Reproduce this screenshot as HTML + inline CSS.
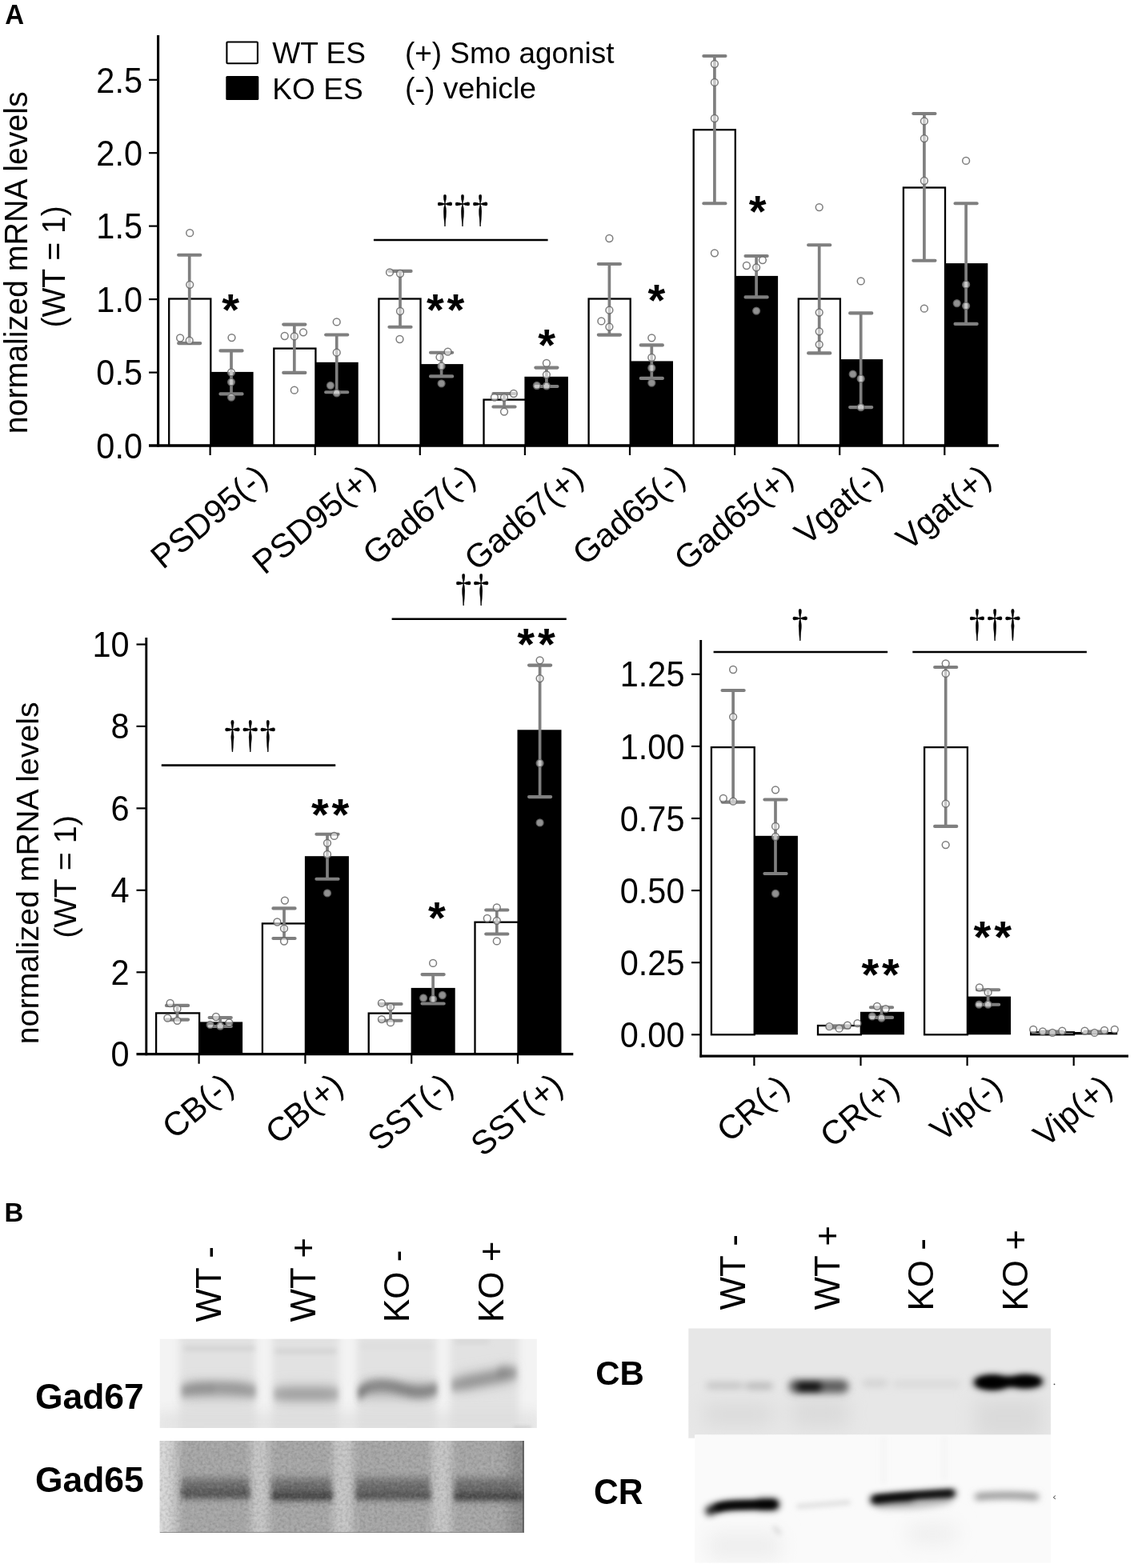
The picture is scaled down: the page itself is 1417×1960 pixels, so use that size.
<!DOCTYPE html>
<html><head><meta charset="utf-8"><title>Figure</title>
<style>
html,body{margin:0;padding:0;background:#fff;}
svg{display:block;}
text{font-family:"Liberation Sans",sans-serif;fill:#000;}
.tk{font-size:41.5px;}
.xl{font-size:41.8px;}
.yl{font-size:39.3px;}
.lg{font-size:37.1px;}
.pl{font-size:33px;font-weight:bold;}
.bl{font-size:44.4px;font-weight:bold;}
.vt{}
.st{font-family:"Liberation Sans",sans-serif;font-weight:bold;}
.dg{font-family:"Noto Serif CJK SC","Liberation Serif",serif;stroke:#000;stroke-width:0.5px;}
</style></head><body>
<svg width="1417" height="1960" viewBox="0 0 1417 1960">
<rect width="1417" height="1960" fill="#fff"/>
<g id="plotA">
<rect x="262.1" y="464.9" width="54.5" height="92.1" fill="#000"/>
<rect x="211.2" y="373.5" width="52.1" height="183.5" fill="#fff" stroke="#000" stroke-width="2.3"/>
<rect x="393.2" y="452.8" width="54.5" height="104.2" fill="#000"/>
<rect x="342.3" y="435.6" width="52.1" height="121.4" fill="#fff" stroke="#000" stroke-width="2.3"/>
<rect x="524.3" y="455.1" width="54.5" height="101.9" fill="#000"/>
<rect x="473.4" y="373.5" width="52.1" height="183.5" fill="#fff" stroke="#000" stroke-width="2.3"/>
<rect x="655.4" y="470.8" width="54.5" height="86.2" fill="#000"/>
<rect x="604.5" y="499.6" width="52.1" height="57.4" fill="#fff" stroke="#000" stroke-width="2.3"/>
<rect x="786.5" y="451.4" width="54.5" height="105.6" fill="#000"/>
<rect x="735.6" y="373.5" width="52.1" height="183.5" fill="#fff" stroke="#000" stroke-width="2.3"/>
<rect x="917.6" y="344.9" width="54.5" height="212.1" fill="#000"/>
<rect x="866.7" y="162.2" width="52.1" height="394.8" fill="#fff" stroke="#000" stroke-width="2.3"/>
<rect x="1048.7" y="449.1" width="54.5" height="107.9" fill="#000"/>
<rect x="997.8" y="373.5" width="52.1" height="183.5" fill="#fff" stroke="#000" stroke-width="2.3"/>
<rect x="1179.8" y="329.1" width="54.5" height="227.9" fill="#000"/>
<rect x="1128.9" y="234.5" width="52.1" height="322.5" fill="#fff" stroke="#000" stroke-width="2.3"/>
<path d="M236.7 318.8V429.1" stroke="#7f7f7f" stroke-width="3.7" fill="none"/>
<path d="M223.1 318.8H250.3M223.1 429.1H250.3" stroke="#7f7f7f" stroke-width="4.1" stroke-linecap="round" fill="none"/>
<path d="M289.0 438.4V492.4" stroke="#7f7f7f" stroke-width="3.7" fill="none"/>
<path d="M275.4 438.4H302.6M275.4 492.4H302.6" stroke="#7f7f7f" stroke-width="4.1" stroke-linecap="round" fill="none"/>
<path d="M367.8 405.6V465.9" stroke="#7f7f7f" stroke-width="3.7" fill="none"/>
<path d="M354.2 405.6H381.4M354.2 465.9H381.4" stroke="#7f7f7f" stroke-width="4.1" stroke-linecap="round" fill="none"/>
<path d="M420.7 418.5V490.3" stroke="#7f7f7f" stroke-width="3.7" fill="none"/>
<path d="M407.1 418.5H434.3M407.1 490.3H434.3" stroke="#7f7f7f" stroke-width="4.1" stroke-linecap="round" fill="none"/>
<path d="M500.0 338.9V408.7" stroke="#7f7f7f" stroke-width="3.7" fill="none"/>
<path d="M486.4 338.9H513.6M486.4 408.7H513.6" stroke="#7f7f7f" stroke-width="4.1" stroke-linecap="round" fill="none"/>
<path d="M551.6 440.7V470.4" stroke="#7f7f7f" stroke-width="3.7" fill="none"/>
<path d="M538.0 440.7H565.2M538.0 470.4H565.2" stroke="#7f7f7f" stroke-width="4.1" stroke-linecap="round" fill="none"/>
<path d="M630.0 492.0V508.5" stroke="#7f7f7f" stroke-width="3.7" fill="none"/>
<path d="M616.4 492.0H643.6M616.4 508.5H643.6" stroke="#7f7f7f" stroke-width="4.1" stroke-linecap="round" fill="none"/>
<path d="M682.9 459.6V483.0" stroke="#7f7f7f" stroke-width="3.7" fill="none"/>
<path d="M669.3 459.6H696.5M669.3 483.0H696.5" stroke="#7f7f7f" stroke-width="4.1" stroke-linecap="round" fill="none"/>
<path d="M761.4 330.0V418.6" stroke="#7f7f7f" stroke-width="3.7" fill="none"/>
<path d="M747.8 330.0H775.0M747.8 418.6H775.0" stroke="#7f7f7f" stroke-width="4.1" stroke-linecap="round" fill="none"/>
<path d="M814.3 431.4V472.9" stroke="#7f7f7f" stroke-width="3.7" fill="none"/>
<path d="M800.7 431.4H827.9M800.7 472.9H827.9" stroke="#7f7f7f" stroke-width="4.1" stroke-linecap="round" fill="none"/>
<path d="M892.9 70.0V254.3" stroke="#7f7f7f" stroke-width="3.7" fill="none"/>
<path d="M879.3 70.0H906.5M879.3 254.3H906.5" stroke="#7f7f7f" stroke-width="4.1" stroke-linecap="round" fill="none"/>
<path d="M945.1 320.0V371.4" stroke="#7f7f7f" stroke-width="3.7" fill="none"/>
<path d="M931.5 320.0H958.7M931.5 371.4H958.7" stroke="#7f7f7f" stroke-width="4.1" stroke-linecap="round" fill="none"/>
<path d="M1023.7 306.3V441.4" stroke="#7f7f7f" stroke-width="3.7" fill="none"/>
<path d="M1010.1 306.3H1037.3M1010.1 441.4H1037.3" stroke="#7f7f7f" stroke-width="4.1" stroke-linecap="round" fill="none"/>
<path d="M1075.7 391.4V509.1" stroke="#7f7f7f" stroke-width="3.7" fill="none"/>
<path d="M1062.1 391.4H1089.3M1062.1 509.1H1089.3" stroke="#7f7f7f" stroke-width="4.1" stroke-linecap="round" fill="none"/>
<path d="M1154.9 142.0V325.7" stroke="#7f7f7f" stroke-width="3.7" fill="none"/>
<path d="M1141.3 142.0H1168.5M1141.3 325.7H1168.5" stroke="#7f7f7f" stroke-width="4.1" stroke-linecap="round" fill="none"/>
<path d="M1207.1 254.3V404.9" stroke="#7f7f7f" stroke-width="3.7" fill="none"/>
<path d="M1193.5 254.3H1220.7M1193.5 404.9H1220.7" stroke="#7f7f7f" stroke-width="4.1" stroke-linecap="round" fill="none"/>
<circle cx="237.2" cy="291.2" r="4.4" fill="#fff" fill-opacity="0.57" stroke="#666" stroke-opacity="0.85" stroke-width="1.5"/>
<circle cx="237.2" cy="355.8" r="4.4" fill="#fff" fill-opacity="0.57" stroke="#666" stroke-opacity="0.85" stroke-width="1.5"/>
<circle cx="225.1" cy="422.5" r="4.4" fill="#fff" fill-opacity="0.57" stroke="#666" stroke-opacity="0.85" stroke-width="1.5"/>
<circle cx="236.7" cy="425.7" r="4.4" fill="#fff" fill-opacity="0.57" stroke="#666" stroke-opacity="0.85" stroke-width="1.5"/>
<circle cx="289.5" cy="422.1" r="4.4" fill="#fff" fill-opacity="0.57" stroke="#666" stroke-opacity="0.85" stroke-width="1.5"/>
<circle cx="289.0" cy="465.5" r="4.4" fill="#fff" fill-opacity="0.57" stroke="#666" stroke-opacity="0.85" stroke-width="1.5"/>
<circle cx="289.0" cy="477.6" r="4.4" fill="#fff" fill-opacity="0.57" stroke="#666" stroke-opacity="0.85" stroke-width="1.5"/>
<circle cx="289.0" cy="496.6" r="4.4" fill="#fff" fill-opacity="0.57" stroke="#666" stroke-opacity="0.85" stroke-width="1.5"/>
<circle cx="355.7" cy="420.0" r="4.4" fill="#fff" fill-opacity="0.57" stroke="#666" stroke-opacity="0.85" stroke-width="1.5"/>
<circle cx="367.8" cy="420.4" r="4.4" fill="#fff" fill-opacity="0.57" stroke="#666" stroke-opacity="0.85" stroke-width="1.5"/>
<circle cx="379.0" cy="415.3" r="4.4" fill="#fff" fill-opacity="0.57" stroke="#666" stroke-opacity="0.85" stroke-width="1.5"/>
<circle cx="367.8" cy="487.7" r="4.4" fill="#fff" fill-opacity="0.57" stroke="#666" stroke-opacity="0.85" stroke-width="1.5"/>
<circle cx="420.7" cy="402.4" r="4.4" fill="#fff" fill-opacity="0.57" stroke="#666" stroke-opacity="0.85" stroke-width="1.5"/>
<circle cx="420.7" cy="440.7" r="4.4" fill="#fff" fill-opacity="0.57" stroke="#666" stroke-opacity="0.85" stroke-width="1.5"/>
<circle cx="412.9" cy="481.8" r="4.4" fill="#fff" fill-opacity="0.57" stroke="#666" stroke-opacity="0.85" stroke-width="1.5"/>
<circle cx="420.7" cy="491.3" r="4.4" fill="#fff" fill-opacity="0.57" stroke="#666" stroke-opacity="0.85" stroke-width="1.5"/>
<circle cx="487.0" cy="340.4" r="4.4" fill="#fff" fill-opacity="0.57" stroke="#666" stroke-opacity="0.85" stroke-width="1.5"/>
<circle cx="500.0" cy="342.0" r="4.4" fill="#fff" fill-opacity="0.57" stroke="#666" stroke-opacity="0.85" stroke-width="1.5"/>
<circle cx="500.0" cy="389.0" r="4.4" fill="#fff" fill-opacity="0.57" stroke="#666" stroke-opacity="0.85" stroke-width="1.5"/>
<circle cx="499.5" cy="424.0" r="4.4" fill="#fff" fill-opacity="0.57" stroke="#666" stroke-opacity="0.85" stroke-width="1.5"/>
<circle cx="559.6" cy="439.7" r="4.4" fill="#fff" fill-opacity="0.57" stroke="#666" stroke-opacity="0.85" stroke-width="1.5"/>
<circle cx="549.5" cy="446.4" r="4.4" fill="#fff" fill-opacity="0.57" stroke="#666" stroke-opacity="0.85" stroke-width="1.5"/>
<circle cx="551.6" cy="457.7" r="4.4" fill="#fff" fill-opacity="0.57" stroke="#666" stroke-opacity="0.85" stroke-width="1.5"/>
<circle cx="551.6" cy="479.3" r="4.4" fill="#fff" fill-opacity="0.57" stroke="#666" stroke-opacity="0.85" stroke-width="1.5"/>
<circle cx="617.9" cy="496.6" r="4.4" fill="#fff" fill-opacity="0.57" stroke="#666" stroke-opacity="0.85" stroke-width="1.5"/>
<circle cx="630.0" cy="496.8" r="4.4" fill="#fff" fill-opacity="0.57" stroke="#666" stroke-opacity="0.85" stroke-width="1.5"/>
<circle cx="641.8" cy="492.0" r="4.4" fill="#fff" fill-opacity="0.57" stroke="#666" stroke-opacity="0.85" stroke-width="1.5"/>
<circle cx="630.0" cy="514.6" r="4.4" fill="#fff" fill-opacity="0.57" stroke="#666" stroke-opacity="0.85" stroke-width="1.5"/>
<circle cx="682.9" cy="453.9" r="4.4" fill="#fff" fill-opacity="0.57" stroke="#666" stroke-opacity="0.85" stroke-width="1.5"/>
<circle cx="682.9" cy="468.3" r="4.4" fill="#fff" fill-opacity="0.57" stroke="#666" stroke-opacity="0.85" stroke-width="1.5"/>
<circle cx="670.8" cy="482.0" r="4.4" fill="#fff" fill-opacity="0.57" stroke="#666" stroke-opacity="0.85" stroke-width="1.5"/>
<circle cx="682.9" cy="482.4" r="4.4" fill="#fff" fill-opacity="0.57" stroke="#666" stroke-opacity="0.85" stroke-width="1.5"/>
<circle cx="761.4" cy="298.0" r="4.4" fill="#fff" fill-opacity="0.57" stroke="#666" stroke-opacity="0.85" stroke-width="1.5"/>
<circle cx="761.4" cy="387.7" r="4.4" fill="#fff" fill-opacity="0.57" stroke="#666" stroke-opacity="0.85" stroke-width="1.5"/>
<circle cx="751.4" cy="401.4" r="4.4" fill="#fff" fill-opacity="0.57" stroke="#666" stroke-opacity="0.85" stroke-width="1.5"/>
<circle cx="761.4" cy="408.6" r="4.4" fill="#fff" fill-opacity="0.57" stroke="#666" stroke-opacity="0.85" stroke-width="1.5"/>
<circle cx="814.3" cy="422.3" r="4.4" fill="#fff" fill-opacity="0.57" stroke="#666" stroke-opacity="0.85" stroke-width="1.5"/>
<circle cx="814.3" cy="447.0" r="4.4" fill="#fff" fill-opacity="0.57" stroke="#666" stroke-opacity="0.85" stroke-width="1.5"/>
<circle cx="814.3" cy="460.0" r="4.4" fill="#fff" fill-opacity="0.57" stroke="#666" stroke-opacity="0.85" stroke-width="1.5"/>
<circle cx="814.3" cy="478.6" r="4.4" fill="#fff" fill-opacity="0.57" stroke="#666" stroke-opacity="0.85" stroke-width="1.5"/>
<circle cx="892.9" cy="80.0" r="4.4" fill="#fff" fill-opacity="0.57" stroke="#666" stroke-opacity="0.85" stroke-width="1.5"/>
<circle cx="892.9" cy="102.9" r="4.4" fill="#fff" fill-opacity="0.57" stroke="#666" stroke-opacity="0.85" stroke-width="1.5"/>
<circle cx="892.9" cy="148.0" r="4.4" fill="#fff" fill-opacity="0.57" stroke="#666" stroke-opacity="0.85" stroke-width="1.5"/>
<circle cx="892.9" cy="316.3" r="4.4" fill="#fff" fill-opacity="0.57" stroke="#666" stroke-opacity="0.85" stroke-width="1.5"/>
<circle cx="932.9" cy="332.0" r="4.4" fill="#fff" fill-opacity="0.57" stroke="#666" stroke-opacity="0.85" stroke-width="1.5"/>
<circle cx="945.1" cy="334.3" r="4.4" fill="#fff" fill-opacity="0.57" stroke="#666" stroke-opacity="0.85" stroke-width="1.5"/>
<circle cx="952.9" cy="325.1" r="4.4" fill="#fff" fill-opacity="0.57" stroke="#666" stroke-opacity="0.85" stroke-width="1.5"/>
<circle cx="945.1" cy="388.6" r="4.4" fill="#fff" fill-opacity="0.57" stroke="#666" stroke-opacity="0.85" stroke-width="1.5"/>
<circle cx="1023.7" cy="259.1" r="4.4" fill="#fff" fill-opacity="0.57" stroke="#666" stroke-opacity="0.85" stroke-width="1.5"/>
<circle cx="1023.7" cy="390.6" r="4.4" fill="#fff" fill-opacity="0.57" stroke="#666" stroke-opacity="0.85" stroke-width="1.5"/>
<circle cx="1023.7" cy="414.3" r="4.4" fill="#fff" fill-opacity="0.57" stroke="#666" stroke-opacity="0.85" stroke-width="1.5"/>
<circle cx="1023.7" cy="430.6" r="4.4" fill="#fff" fill-opacity="0.57" stroke="#666" stroke-opacity="0.85" stroke-width="1.5"/>
<circle cx="1075.7" cy="351.4" r="4.4" fill="#fff" fill-opacity="0.57" stroke="#666" stroke-opacity="0.85" stroke-width="1.5"/>
<circle cx="1065.7" cy="467.7" r="4.4" fill="#fff" fill-opacity="0.57" stroke="#666" stroke-opacity="0.85" stroke-width="1.5"/>
<circle cx="1075.7" cy="473.4" r="4.4" fill="#fff" fill-opacity="0.57" stroke="#666" stroke-opacity="0.85" stroke-width="1.5"/>
<circle cx="1075.7" cy="509.1" r="4.4" fill="#fff" fill-opacity="0.57" stroke="#666" stroke-opacity="0.85" stroke-width="1.5"/>
<circle cx="1154.9" cy="151.4" r="4.4" fill="#fff" fill-opacity="0.57" stroke="#666" stroke-opacity="0.85" stroke-width="1.5"/>
<circle cx="1154.9" cy="173.1" r="4.4" fill="#fff" fill-opacity="0.57" stroke="#666" stroke-opacity="0.85" stroke-width="1.5"/>
<circle cx="1154.9" cy="226.0" r="4.4" fill="#fff" fill-opacity="0.57" stroke="#666" stroke-opacity="0.85" stroke-width="1.5"/>
<circle cx="1154.9" cy="385.7" r="4.4" fill="#fff" fill-opacity="0.57" stroke="#666" stroke-opacity="0.85" stroke-width="1.5"/>
<circle cx="1207.1" cy="200.9" r="4.4" fill="#fff" fill-opacity="0.57" stroke="#666" stroke-opacity="0.85" stroke-width="1.5"/>
<circle cx="1207.1" cy="355.7" r="4.4" fill="#fff" fill-opacity="0.57" stroke="#666" stroke-opacity="0.85" stroke-width="1.5"/>
<circle cx="1195.7" cy="379.1" r="4.4" fill="#fff" fill-opacity="0.57" stroke="#666" stroke-opacity="0.85" stroke-width="1.5"/>
<circle cx="1207.1" cy="382.3" r="4.4" fill="#fff" fill-opacity="0.57" stroke="#666" stroke-opacity="0.85" stroke-width="1.5"/>
<path d="M197.6 44V558.6" stroke="#000" stroke-width="3.1" fill="none"/>
<path d="M186 557.0H1248" stroke="#000" stroke-width="3.3" fill="none"/>
<text class="tk" text-anchor="end" transform="translate(178 572.8) scale(1 1.065)">0.0</text>
<path d="M186 465.6H197" stroke="#000" stroke-width="2.2" fill="none"/>
<text class="tk" text-anchor="end" transform="translate(178 481.4) scale(1 1.065)">0.5</text>
<path d="M186 374.1H197" stroke="#000" stroke-width="2.2" fill="none"/>
<text class="tk" text-anchor="end" transform="translate(178 389.9) scale(1 1.065)">1.0</text>
<path d="M186 282.6H197" stroke="#000" stroke-width="2.2" fill="none"/>
<text class="tk" text-anchor="end" transform="translate(178 298.4) scale(1 1.065)">1.5</text>
<path d="M186 191.2H197" stroke="#000" stroke-width="2.2" fill="none"/>
<text class="tk" text-anchor="end" transform="translate(178 207.0) scale(1 1.065)">2.0</text>
<path d="M186 99.8H197" stroke="#000" stroke-width="2.2" fill="none"/>
<text class="tk" text-anchor="end" transform="translate(178 115.5) scale(1 1.065)">2.5</text>
<path d="M262.6 557.0V569.0" stroke="#000" stroke-width="2.2" fill="none"/>
<path d="M393.7 557.0V569.0" stroke="#000" stroke-width="2.2" fill="none"/>
<path d="M524.8 557.0V569.0" stroke="#000" stroke-width="2.2" fill="none"/>
<path d="M655.9 557.0V569.0" stroke="#000" stroke-width="2.2" fill="none"/>
<path d="M787.0 557.0V569.0" stroke="#000" stroke-width="2.2" fill="none"/>
<path d="M918.1 557.0V569.0" stroke="#000" stroke-width="2.2" fill="none"/>
<path d="M1049.2 557.0V569.0" stroke="#000" stroke-width="2.2" fill="none"/>
<path d="M1180.3 557.0V569.0" stroke="#000" stroke-width="2.2" fill="none"/>
<text class="xl" text-anchor="end" transform="translate(337.0 600.8) rotate(-40)">PSD95(-)</text>
<text class="xl" text-anchor="end" transform="translate(472.1 600.8) rotate(-40)">PSD95(+)</text>
<text class="xl" text-anchor="end" transform="translate(596.6 600.8) rotate(-40)">Gad67(-)</text>
<text class="xl" text-anchor="end" transform="translate(731.7 600.8) rotate(-40)">Gad67(+)</text>
<text class="xl" text-anchor="end" transform="translate(858.8 600.8) rotate(-40)">Gad65(-)</text>
<text class="xl" text-anchor="end" transform="translate(993.9 600.8) rotate(-40)">Gad65(+)</text>
<text class="xl" text-anchor="end" transform="translate(1105.8 600.8) rotate(-40)">Vgat(-)</text>
<text class="xl" text-anchor="end" transform="translate(1240.9 600.8) rotate(-40)">Vgat(+)</text>
<path d="M466.9 300.0H684.6" stroke="#000" stroke-width="2.6" fill="none"/>
<text class="dg" font-size="45" text-anchor="middle" transform="translate(555.9 279.8) scale(0.82 1)">†</text>
<text class="dg" font-size="45" text-anchor="middle" transform="translate(578.0 279.8) scale(0.82 1)">†</text>
<text class="dg" font-size="45" text-anchor="middle" transform="translate(600.1 279.8) scale(0.82 1)">†</text>
<text x="290.2" y="406.3" class="st" font-size="56" text-anchor="middle" letter-spacing="3.9">*</text>
<text x="558.6" y="406.3" class="st" font-size="56" text-anchor="middle" letter-spacing="3.9">**</text>
<text x="685.1" y="450.3" class="st" font-size="56" text-anchor="middle" letter-spacing="3.9">*</text>
<text x="822.4" y="393.6" class="st" font-size="56" text-anchor="middle" letter-spacing="3.9">*</text>
<text x="948.5" y="282.6" class="st" font-size="56" text-anchor="middle" letter-spacing="3.9">*</text>
<text class="yl" text-anchor="middle" transform="translate(34.4 328.3) rotate(-90) scale(1 1.04)">normalized mRNA levels</text>
<text class="yl" text-anchor="end" transform="translate(81 257.2) rotate(-90) scale(0.995 1.03)">(WT = 1)</text>
<rect x="283.4" y="52.5" width="38.5" height="26.8" rx="1" fill="#fff" stroke="#000" stroke-width="2.1"/>
<rect x="282.3" y="95" width="41" height="30" rx="1.5" fill="#000"/>
<text x="340.3" y="79.3" class="lg">WT ES</text>
<text x="340.3" y="123.6" class="lg">KO ES</text>
<text x="506" y="78.8" class="lg" style="font-size:36.9px">(+) Smo agonist</text>
<text x="506" y="123.2" class="lg" style="font-size:37.4px">(-) vehicle</text>
</g>
<text class="pl" transform="translate(6.3 30) scale(1 1.04)">A</text>
<text class="pl" transform="translate(5.6 1527) scale(1 1.02)">B</text>
<g id="plotL">
<rect x="248.1" y="1277.4" width="55.0" height="40.3" fill="#000"/>
<rect x="195.1" y="1266.4" width="54.0" height="51.3" fill="#fff" stroke="#000" stroke-width="2.3"/>
<rect x="380.9" y="1070.2" width="55.0" height="247.5" fill="#000"/>
<rect x="327.9" y="1154.4" width="54.0" height="163.3" fill="#fff" stroke="#000" stroke-width="2.3"/>
<rect x="513.7" y="1234.9" width="55.0" height="82.8" fill="#000"/>
<rect x="460.7" y="1266.6" width="54.0" height="51.1" fill="#fff" stroke="#000" stroke-width="2.3"/>
<rect x="646.5" y="912.3" width="55.0" height="405.4" fill="#000"/>
<rect x="593.5" y="1152.7" width="54.0" height="165.0" fill="#fff" stroke="#000" stroke-width="2.3"/>
<path d="M221.5 1256.9V1274.6" stroke="#7f7f7f" stroke-width="3.7" fill="none"/>
<path d="M207.9 1256.9H235.1M207.9 1274.6H235.1" stroke="#7f7f7f" stroke-width="4.1" stroke-linecap="round" fill="none"/>
<path d="M275.2 1272.0V1283.0" stroke="#7f7f7f" stroke-width="3.7" fill="none"/>
<path d="M261.6 1272.0H288.8M261.6 1283.0H288.8" stroke="#7f7f7f" stroke-width="4.1" stroke-linecap="round" fill="none"/>
<path d="M355.0 1135.4V1173.0" stroke="#7f7f7f" stroke-width="3.7" fill="none"/>
<path d="M341.4 1135.4H368.6M341.4 1173.0H368.6" stroke="#7f7f7f" stroke-width="4.1" stroke-linecap="round" fill="none"/>
<path d="M409.0 1042.7V1098.7" stroke="#7f7f7f" stroke-width="3.7" fill="none"/>
<path d="M395.4 1042.7H422.6M395.4 1098.7H422.6" stroke="#7f7f7f" stroke-width="4.1" stroke-linecap="round" fill="none"/>
<path d="M488.0 1255.0V1275.7" stroke="#7f7f7f" stroke-width="3.7" fill="none"/>
<path d="M474.4 1255.0H501.6M474.4 1275.7H501.6" stroke="#7f7f7f" stroke-width="4.1" stroke-linecap="round" fill="none"/>
<path d="M541.1 1218.1V1254.5" stroke="#7f7f7f" stroke-width="3.7" fill="none"/>
<path d="M527.5 1218.1H554.7M527.5 1254.5H554.7" stroke="#7f7f7f" stroke-width="4.1" stroke-linecap="round" fill="none"/>
<path d="M620.8 1137.5V1167.5" stroke="#7f7f7f" stroke-width="3.7" fill="none"/>
<path d="M607.2 1137.5H634.4M607.2 1167.5H634.4" stroke="#7f7f7f" stroke-width="4.1" stroke-linecap="round" fill="none"/>
<path d="M674.6 831.6V996.1" stroke="#7f7f7f" stroke-width="3.7" fill="none"/>
<path d="M661.0 831.6H688.2M661.0 996.1H688.2" stroke="#7f7f7f" stroke-width="4.1" stroke-linecap="round" fill="none"/>
<circle cx="212.6" cy="1254.0" r="4.4" fill="#fff" fill-opacity="0.57" stroke="#666" stroke-opacity="0.85" stroke-width="1.5"/>
<circle cx="221.5" cy="1261.0" r="4.4" fill="#fff" fill-opacity="0.57" stroke="#666" stroke-opacity="0.85" stroke-width="1.5"/>
<circle cx="209.4" cy="1272.7" r="4.4" fill="#fff" fill-opacity="0.57" stroke="#666" stroke-opacity="0.85" stroke-width="1.5"/>
<circle cx="221.5" cy="1275.8" r="4.4" fill="#fff" fill-opacity="0.57" stroke="#666" stroke-opacity="0.85" stroke-width="1.5"/>
<circle cx="269.9" cy="1271.0" r="4.4" fill="#fff" fill-opacity="0.57" stroke="#666" stroke-opacity="0.85" stroke-width="1.5"/>
<circle cx="262.6" cy="1280.9" r="4.4" fill="#fff" fill-opacity="0.57" stroke="#666" stroke-opacity="0.85" stroke-width="1.5"/>
<circle cx="275.2" cy="1282.5" r="4.4" fill="#fff" fill-opacity="0.57" stroke="#666" stroke-opacity="0.85" stroke-width="1.5"/>
<circle cx="286.3" cy="1278.4" r="4.4" fill="#fff" fill-opacity="0.57" stroke="#666" stroke-opacity="0.85" stroke-width="1.5"/>
<circle cx="355.9" cy="1125.6" r="4.4" fill="#fff" fill-opacity="0.57" stroke="#666" stroke-opacity="0.85" stroke-width="1.5"/>
<circle cx="346.4" cy="1152.5" r="4.4" fill="#fff" fill-opacity="0.57" stroke="#666" stroke-opacity="0.85" stroke-width="1.5"/>
<circle cx="355.0" cy="1160.7" r="4.4" fill="#fff" fill-opacity="0.57" stroke="#666" stroke-opacity="0.85" stroke-width="1.5"/>
<circle cx="355.0" cy="1176.5" r="4.4" fill="#fff" fill-opacity="0.57" stroke="#666" stroke-opacity="0.85" stroke-width="1.5"/>
<circle cx="417.6" cy="1044.9" r="4.4" fill="#fff" fill-opacity="0.57" stroke="#666" stroke-opacity="0.85" stroke-width="1.5"/>
<circle cx="409.0" cy="1053.8" r="4.4" fill="#fff" fill-opacity="0.57" stroke="#666" stroke-opacity="0.85" stroke-width="1.5"/>
<circle cx="409.0" cy="1068.0" r="4.4" fill="#fff" fill-opacity="0.57" stroke="#666" stroke-opacity="0.85" stroke-width="1.5"/>
<circle cx="409.0" cy="1116.4" r="4.4" fill="#fff" fill-opacity="0.57" stroke="#666" stroke-opacity="0.85" stroke-width="1.5"/>
<circle cx="476.9" cy="1253.9" r="4.4" fill="#fff" fill-opacity="0.57" stroke="#666" stroke-opacity="0.85" stroke-width="1.5"/>
<circle cx="488.0" cy="1258.6" r="4.4" fill="#fff" fill-opacity="0.57" stroke="#666" stroke-opacity="0.85" stroke-width="1.5"/>
<circle cx="476.9" cy="1274.1" r="4.4" fill="#fff" fill-opacity="0.57" stroke="#666" stroke-opacity="0.85" stroke-width="1.5"/>
<circle cx="488.0" cy="1278.2" r="4.4" fill="#fff" fill-opacity="0.57" stroke="#666" stroke-opacity="0.85" stroke-width="1.5"/>
<circle cx="541.1" cy="1203.9" r="4.4" fill="#fff" fill-opacity="0.57" stroke="#666" stroke-opacity="0.85" stroke-width="1.5"/>
<circle cx="529.1" cy="1247.5" r="4.4" fill="#fff" fill-opacity="0.57" stroke="#666" stroke-opacity="0.85" stroke-width="1.5"/>
<circle cx="541.1" cy="1248.8" r="4.4" fill="#fff" fill-opacity="0.57" stroke="#666" stroke-opacity="0.85" stroke-width="1.5"/>
<circle cx="552.8" cy="1244.0" r="4.4" fill="#fff" fill-opacity="0.57" stroke="#666" stroke-opacity="0.85" stroke-width="1.5"/>
<circle cx="620.8" cy="1134.3" r="4.4" fill="#fff" fill-opacity="0.57" stroke="#666" stroke-opacity="0.85" stroke-width="1.5"/>
<circle cx="608.8" cy="1147.9" r="4.4" fill="#fff" fill-opacity="0.57" stroke="#666" stroke-opacity="0.85" stroke-width="1.5"/>
<circle cx="620.8" cy="1150.8" r="4.4" fill="#fff" fill-opacity="0.57" stroke="#666" stroke-opacity="0.85" stroke-width="1.5"/>
<circle cx="620.8" cy="1176.4" r="4.4" fill="#fff" fill-opacity="0.57" stroke="#666" stroke-opacity="0.85" stroke-width="1.5"/>
<circle cx="674.6" cy="825.3" r="4.4" fill="#fff" fill-opacity="0.57" stroke="#666" stroke-opacity="0.85" stroke-width="1.5"/>
<circle cx="674.6" cy="848.1" r="4.4" fill="#fff" fill-opacity="0.57" stroke="#666" stroke-opacity="0.85" stroke-width="1.5"/>
<circle cx="674.6" cy="954.0" r="4.4" fill="#fff" fill-opacity="0.57" stroke="#666" stroke-opacity="0.85" stroke-width="1.5"/>
<circle cx="674.6" cy="1028.4" r="4.4" fill="#fff" fill-opacity="0.57" stroke="#666" stroke-opacity="0.85" stroke-width="1.5"/>
<path d="M182.8 797V1319.3" stroke="#000" stroke-width="2.9" fill="none"/>
<path d="M170.5 1317.7H716.3" stroke="#000" stroke-width="3.2" fill="none"/>
<text class="tk" text-anchor="end" transform="translate(161.6 1333.1) scale(1 1.065)">0</text>
<path d="M170.5 1215.3H183" stroke="#000" stroke-width="2.2" fill="none"/>
<text class="tk" text-anchor="end" transform="translate(161.6 1230.7) scale(1 1.065)">2</text>
<path d="M170.5 1112.8H183" stroke="#000" stroke-width="2.2" fill="none"/>
<text class="tk" text-anchor="end" transform="translate(161.6 1128.2) scale(1 1.065)">4</text>
<path d="M170.5 1010.4H183" stroke="#000" stroke-width="2.2" fill="none"/>
<text class="tk" text-anchor="end" transform="translate(161.6 1025.8) scale(1 1.065)">6</text>
<path d="M170.5 907.9H183" stroke="#000" stroke-width="2.2" fill="none"/>
<text class="tk" text-anchor="end" transform="translate(161.6 923.3) scale(1 1.065)">8</text>
<path d="M170.5 805.5H183" stroke="#000" stroke-width="2.2" fill="none"/>
<text class="tk" text-anchor="end" transform="translate(161.6 820.9) scale(1 1.065)">10</text>
<path d="M248.6 1317.7V1329.7" stroke="#000" stroke-width="2.2" fill="none"/>
<path d="M381.4 1317.7V1329.7" stroke="#000" stroke-width="2.2" fill="none"/>
<path d="M514.2 1317.7V1329.7" stroke="#000" stroke-width="2.2" fill="none"/>
<path d="M647.0 1317.7V1329.7" stroke="#000" stroke-width="2.2" fill="none"/>
<text class="xl" text-anchor="end" transform="translate(294.5 1361.2) rotate(-40)">CB(-)</text>
<text class="xl" text-anchor="end" transform="translate(431.4 1361.2) rotate(-40)">CB(+)</text>
<text class="xl" text-anchor="end" transform="translate(569.0 1361.2) rotate(-40)">SST(-)</text>
<text class="xl" text-anchor="end" transform="translate(705.9 1361.2) rotate(-40)">SST(+)</text>
<path d="M201.8 956.6H419.2" stroke="#000" stroke-width="2.6" fill="none"/>
<text class="dg" font-size="45" text-anchor="middle" transform="translate(290.5 936.8) scale(0.82 1)">†</text>
<text class="dg" font-size="45" text-anchor="middle" transform="translate(312.6 936.8) scale(0.82 1)">†</text>
<text class="dg" font-size="45" text-anchor="middle" transform="translate(334.8 936.8) scale(0.82 1)">†</text>
<path d="M489.6 773.8H707.8" stroke="#000" stroke-width="2.6" fill="none"/>
<text class="dg" font-size="45" text-anchor="middle" transform="translate(579.1 753.8) scale(0.82 1)">†</text>
<text class="dg" font-size="45" text-anchor="middle" transform="translate(601.3 753.8) scale(0.82 1)">†</text>
<text x="414.6" y="1037.0" class="st" font-size="56" text-anchor="middle" letter-spacing="3.9">**</text>
<text x="547.9" y="1165.8" class="st" font-size="56" text-anchor="middle" letter-spacing="3.9">*</text>
<text x="672.0" y="824.0" class="st" font-size="56" text-anchor="middle" letter-spacing="3.9">**</text>
<text class="yl" text-anchor="middle" transform="translate(48.1 1091.3) rotate(-90)">normalized mRNA levels</text>
<text class="yl" text-anchor="end" transform="translate(95.4 1019.2) rotate(-90) scale(1.003 1)">(WT = 1)</text>
</g>
<g id="plotR">
<rect x="941.9" y="1044.8" width="55.0" height="248.5" fill="#000"/>
<rect x="888.9" y="934.1" width="53.8" height="359.2" fill="#fff" stroke="#000" stroke-width="2.3"/>
<rect x="1075.0" y="1264.8" width="55.0" height="28.5" fill="#000"/>
<rect x="1022.0" y="1282.0" width="53.8" height="11.3" fill="#fff" stroke="#000" stroke-width="2.3"/>
<rect x="1208.1" y="1245.6" width="55.0" height="47.7" fill="#000"/>
<rect x="1155.1" y="934.1" width="53.8" height="359.2" fill="#fff" stroke="#000" stroke-width="2.3"/>
<rect x="1341.2" y="1290.0" width="55.0" height="3.3" fill="#000"/>
<rect x="1288.2" y="1290.3" width="53.8" height="3.0" fill="#fff" stroke="#000" stroke-width="2.3"/>
<path d="M916.1 863.0V1002.6" stroke="#7f7f7f" stroke-width="3.7" fill="none"/>
<path d="M902.5 863.0H929.7M902.5 1002.6H929.7" stroke="#7f7f7f" stroke-width="4.1" stroke-linecap="round" fill="none"/>
<path d="M969.0 999.5V1092.0" stroke="#7f7f7f" stroke-width="3.7" fill="none"/>
<path d="M955.4 999.5H982.6M955.4 1092.0H982.6" stroke="#7f7f7f" stroke-width="4.1" stroke-linecap="round" fill="none"/>
<path d="M1047.7 1282.5V1284.5" stroke="#7f7f7f" stroke-width="3.7" fill="none"/>
<path d="M1034.1 1282.5H1061.3M1034.1 1284.5H1061.3" stroke="#7f7f7f" stroke-width="4.1" stroke-linecap="round" fill="none"/>
<path d="M1101.5 1259.3V1271.9" stroke="#7f7f7f" stroke-width="3.7" fill="none"/>
<path d="M1087.9 1259.3H1115.1M1087.9 1271.9H1115.1" stroke="#7f7f7f" stroke-width="4.1" stroke-linecap="round" fill="none"/>
<path d="M1181.7 834.0V1032.9" stroke="#7f7f7f" stroke-width="3.7" fill="none"/>
<path d="M1168.1 834.0H1195.3M1168.1 1032.9H1195.3" stroke="#7f7f7f" stroke-width="4.1" stroke-linecap="round" fill="none"/>
<path d="M1234.6 1237.3V1255.7" stroke="#7f7f7f" stroke-width="3.7" fill="none"/>
<path d="M1221.0 1237.3H1248.2M1221.0 1255.7H1248.2" stroke="#7f7f7f" stroke-width="4.1" stroke-linecap="round" fill="none"/>
<path d="M1314.0 1289.5V1290.5" stroke="#7f7f7f" stroke-width="3.7" fill="none"/>
<path d="M1300.4 1289.5H1327.6M1300.4 1290.5H1327.6" stroke="#7f7f7f" stroke-width="4.1" stroke-linecap="round" fill="none"/>
<path d="M1369.0 1289.5V1290.5" stroke="#7f7f7f" stroke-width="3.7" fill="none"/>
<path d="M1355.4 1289.5H1382.6M1355.4 1290.5H1382.6" stroke="#7f7f7f" stroke-width="4.1" stroke-linecap="round" fill="none"/>
<circle cx="916.1" cy="837.0" r="4.4" fill="#fff" fill-opacity="0.57" stroke="#666" stroke-opacity="0.85" stroke-width="1.5"/>
<circle cx="916.1" cy="896.1" r="4.4" fill="#fff" fill-opacity="0.57" stroke="#666" stroke-opacity="0.85" stroke-width="1.5"/>
<circle cx="903.8" cy="998.0" r="4.4" fill="#fff" fill-opacity="0.57" stroke="#666" stroke-opacity="0.85" stroke-width="1.5"/>
<circle cx="916.1" cy="1001.7" r="4.4" fill="#fff" fill-opacity="0.57" stroke="#666" stroke-opacity="0.85" stroke-width="1.5"/>
<circle cx="969.0" cy="987.3" r="4.4" fill="#fff" fill-opacity="0.57" stroke="#666" stroke-opacity="0.85" stroke-width="1.5"/>
<circle cx="969.0" cy="1032.9" r="4.4" fill="#fff" fill-opacity="0.57" stroke="#666" stroke-opacity="0.85" stroke-width="1.5"/>
<circle cx="969.0" cy="1046.0" r="4.4" fill="#fff" fill-opacity="0.57" stroke="#666" stroke-opacity="0.85" stroke-width="1.5"/>
<circle cx="969.0" cy="1117.0" r="4.4" fill="#fff" fill-opacity="0.57" stroke="#666" stroke-opacity="0.85" stroke-width="1.5"/>
<circle cx="1036.3" cy="1283.2" r="4.4" fill="#fff" fill-opacity="0.57" stroke="#666" stroke-opacity="0.85" stroke-width="1.5"/>
<circle cx="1048.6" cy="1285.7" r="4.4" fill="#fff" fill-opacity="0.57" stroke="#666" stroke-opacity="0.85" stroke-width="1.5"/>
<circle cx="1059.0" cy="1281.7" r="4.4" fill="#fff" fill-opacity="0.57" stroke="#666" stroke-opacity="0.85" stroke-width="1.5"/>
<circle cx="1071.5" cy="1279.2" r="4.4" fill="#fff" fill-opacity="0.57" stroke="#666" stroke-opacity="0.85" stroke-width="1.5"/>
<circle cx="1096.0" cy="1257.8" r="4.4" fill="#fff" fill-opacity="0.57" stroke="#666" stroke-opacity="0.85" stroke-width="1.5"/>
<circle cx="1106.7" cy="1261.2" r="4.4" fill="#fff" fill-opacity="0.57" stroke="#666" stroke-opacity="0.85" stroke-width="1.5"/>
<circle cx="1089.9" cy="1270.4" r="4.4" fill="#fff" fill-opacity="0.57" stroke="#666" stroke-opacity="0.85" stroke-width="1.5"/>
<circle cx="1101.5" cy="1272.5" r="4.4" fill="#fff" fill-opacity="0.57" stroke="#666" stroke-opacity="0.85" stroke-width="1.5"/>
<circle cx="1181.7" cy="829.4" r="4.4" fill="#fff" fill-opacity="0.57" stroke="#666" stroke-opacity="0.85" stroke-width="1.5"/>
<circle cx="1181.7" cy="841.9" r="4.4" fill="#fff" fill-opacity="0.57" stroke="#666" stroke-opacity="0.85" stroke-width="1.5"/>
<circle cx="1181.7" cy="1004.7" r="4.4" fill="#fff" fill-opacity="0.57" stroke="#666" stroke-opacity="0.85" stroke-width="1.5"/>
<circle cx="1181.7" cy="1056.1" r="4.4" fill="#fff" fill-opacity="0.57" stroke="#666" stroke-opacity="0.85" stroke-width="1.5"/>
<circle cx="1223.9" cy="1234.3" r="4.4" fill="#fff" fill-opacity="0.57" stroke="#666" stroke-opacity="0.85" stroke-width="1.5"/>
<circle cx="1234.6" cy="1240.4" r="4.4" fill="#fff" fill-opacity="0.57" stroke="#666" stroke-opacity="0.85" stroke-width="1.5"/>
<circle cx="1223.3" cy="1255.7" r="4.4" fill="#fff" fill-opacity="0.57" stroke="#666" stroke-opacity="0.85" stroke-width="1.5"/>
<circle cx="1234.6" cy="1255.7" r="4.4" fill="#fff" fill-opacity="0.57" stroke="#666" stroke-opacity="0.85" stroke-width="1.5"/>
<circle cx="1291.2" cy="1286.9" r="4.4" fill="#fff" fill-opacity="0.57" stroke="#666" stroke-opacity="0.85" stroke-width="1.5"/>
<circle cx="1302.9" cy="1289.3" r="4.4" fill="#fff" fill-opacity="0.57" stroke="#666" stroke-opacity="0.85" stroke-width="1.5"/>
<circle cx="1315.1" cy="1290.9" r="4.4" fill="#fff" fill-opacity="0.57" stroke="#666" stroke-opacity="0.85" stroke-width="1.5"/>
<circle cx="1327.3" cy="1288.7" r="4.4" fill="#fff" fill-opacity="0.57" stroke="#666" stroke-opacity="0.85" stroke-width="1.5"/>
<circle cx="1355.5" cy="1288.7" r="4.4" fill="#fff" fill-opacity="0.57" stroke="#666" stroke-opacity="0.85" stroke-width="1.5"/>
<circle cx="1367.7" cy="1290.9" r="4.4" fill="#fff" fill-opacity="0.57" stroke="#666" stroke-opacity="0.85" stroke-width="1.5"/>
<circle cx="1380.0" cy="1287.8" r="4.4" fill="#fff" fill-opacity="0.57" stroke="#666" stroke-opacity="0.85" stroke-width="1.5"/>
<circle cx="1392.8" cy="1286.9" r="4.4" fill="#fff" fill-opacity="0.57" stroke="#666" stroke-opacity="0.85" stroke-width="1.5"/>
<path d="M875.7 800V1321.8" stroke="#000" stroke-width="2.9" fill="none"/>
<path d="M874.5 1320.2H1410" stroke="#000" stroke-width="3.2" fill="none"/>
<path d="M864 1293.3H876" stroke="#000" stroke-width="2.2" fill="none"/>
<text class="tk" text-anchor="end" transform="translate(855.5 1308.9) scale(1 1.065)">0.00</text>
<path d="M864 1203.2H876" stroke="#000" stroke-width="2.2" fill="none"/>
<text class="tk" text-anchor="end" transform="translate(855.5 1218.8) scale(1 1.065)">0.25</text>
<path d="M864 1113.1H876" stroke="#000" stroke-width="2.2" fill="none"/>
<text class="tk" text-anchor="end" transform="translate(855.5 1128.7) scale(1 1.065)">0.50</text>
<path d="M864 1023.0H876" stroke="#000" stroke-width="2.2" fill="none"/>
<text class="tk" text-anchor="end" transform="translate(855.5 1038.6) scale(1 1.065)">0.75</text>
<path d="M864 932.9H876" stroke="#000" stroke-width="2.2" fill="none"/>
<text class="tk" text-anchor="end" transform="translate(855.5 948.5) scale(1 1.065)">1.00</text>
<path d="M864 842.8H876" stroke="#000" stroke-width="2.2" fill="none"/>
<text class="tk" text-anchor="end" transform="translate(855.5 858.4) scale(1 1.065)">1.25</text>
<path d="M942.4 1320.2V1332.2" stroke="#000" stroke-width="2.2" fill="none"/>
<path d="M1075.5 1320.2V1332.2" stroke="#000" stroke-width="2.2" fill="none"/>
<path d="M1208.6 1320.2V1332.2" stroke="#000" stroke-width="2.2" fill="none"/>
<path d="M1341.7 1320.2V1332.2" stroke="#000" stroke-width="2.2" fill="none"/>
<text class="xl" text-anchor="end" transform="translate(989.2 1363.5) rotate(-40)">CR(-)</text>
<text class="xl" text-anchor="end" transform="translate(1126.3 1363.5) rotate(-40)">CR(+)</text>
<text class="xl" text-anchor="end" transform="translate(1255.1 1363.5) rotate(-40)">Vip(-)</text>
<text class="xl" text-anchor="end" transform="translate(1392.3 1363.5) rotate(-40)">Vip(+)</text>
<path d="M891.6 815.0H1109.1" stroke="#000" stroke-width="2.6" fill="none"/>
<text class="dg" font-size="45" text-anchor="middle" transform="translate(999.6 797.8) scale(0.82 1)">†</text>
<path d="M1140.3 815.0H1357.9" stroke="#000" stroke-width="2.6" fill="none"/>
<text class="dg" font-size="45" text-anchor="middle" transform="translate(1221.0 797.8) scale(0.82 1)">†</text>
<text class="dg" font-size="45" text-anchor="middle" transform="translate(1243.2 797.8) scale(0.82 1)">†</text>
<text class="dg" font-size="45" text-anchor="middle" transform="translate(1265.4 797.8) scale(0.82 1)">†</text>
<text x="1102.1" y="1237.3" class="st" font-size="56" text-anchor="middle" letter-spacing="3.9">**</text>
<text x="1242.2" y="1190.3" class="st" font-size="56" text-anchor="middle" letter-spacing="3.9">**</text>
</g>
<text class="vt" font-size="44" transform="translate(276.0 1652.5) rotate(-90)">WT -</text>
<text class="vt" font-size="44" transform="translate(393.8 1652.5) rotate(-90)">WT +</text>
<text class="vt" font-size="44" transform="translate(511.0 1653.0) rotate(-90)">KO -</text>
<text class="vt" font-size="44" transform="translate(628.5 1653.0) rotate(-90)">KO +</text>
<text class="vt" font-size="44" transform="translate(931.0 1637.5) rotate(-90)">WT -</text>
<text class="vt" font-size="44" transform="translate(1049.3 1637.5) rotate(-90)">WT +</text>
<text class="vt" font-size="44" transform="translate(1165.8 1638.5) rotate(-90)">KO -</text>
<text class="vt" font-size="44" transform="translate(1284.0 1638.5) rotate(-90)">KO +</text>
<text x="44" y="1760.7" class="bl">Gad67</text>
<text x="44" y="1864.7" class="bl">Gad65</text>
<text class="bl" style="font-size:42px" transform="translate(744.2 1731) scale(1 1.02)">CB</text>
<text class="bl" style="font-size:42.6px" transform="translate(742 1879.8) scale(1 1.02)">CR</text>
<defs>
<filter id="f2" filterUnits="userSpaceOnUse" x="0" y="1600" width="1417" height="360"><feGaussianBlur stdDeviation="2 2"/></filter>
<filter id="f3" filterUnits="userSpaceOnUse" x="0" y="1600" width="1417" height="360"><feGaussianBlur stdDeviation="3 3"/></filter>
<filter id="f4" filterUnits="userSpaceOnUse" x="0" y="1600" width="1417" height="360"><feGaussianBlur stdDeviation="4 4"/></filter>
<filter id="f5" filterUnits="userSpaceOnUse" x="0" y="1600" width="1417" height="360"><feGaussianBlur stdDeviation="5 5"/></filter>
<filter id="f35" filterUnits="userSpaceOnUse" x="0" y="1600" width="1417" height="360"><feGaussianBlur stdDeviation="3.5 5.5"/></filter>
<filter id="f36" filterUnits="userSpaceOnUse" x="0" y="1600" width="1417" height="360"><feGaussianBlur stdDeviation="3 6.5"/></filter>
<filter id="f8" filterUnits="userSpaceOnUse" x="0" y="1600" width="1417" height="360"><feGaussianBlur stdDeviation="8 8"/></filter>
<filter id="f12" filterUnits="userSpaceOnUse" x="0" y="1600" width="1417" height="360"><feGaussianBlur stdDeviation="12 12"/></filter>
<filter id="f24" filterUnits="userSpaceOnUse" x="0" y="1600" width="1417" height="360"><feGaussianBlur stdDeviation="2.5 4"/></filter>
<filter id="grain" x="0" y="0" width="100%" height="100%"><feTurbulence type="fractalNoise" baseFrequency="0.28" numOctaves="2" seed="11" result="n"/><feColorMatrix in="n" type="matrix" values="0 0 0 0 0  0 0 0 0 0  0 0 0 0 0  1.6 0 0 0 -0.62"/><feGaussianBlur stdDeviation="0.7"/></filter>
<filter id="grainw" x="0" y="0" width="100%" height="100%"><feTurbulence type="fractalNoise" baseFrequency="0.28" numOctaves="2" seed="3" result="n"/><feColorMatrix in="n" type="matrix" values="0 0 0 0 1  0 0 0 0 1  0 0 0 0 1  1.6 0 0 0 -0.62"/><feGaussianBlur stdDeviation="0.7"/></filter>
<clipPath id="c67"><rect x="199.7" y="1673.8" width="471.1" height="111.2"/></clipPath>
<clipPath id="c65"><rect x="199.7" y="1801" width="455" height="115"/></clipPath>
<clipPath id="ccb"><path d="M860.3 1660.5H1313V1793.5H868.2V1797.7H860.3Z"/></clipPath>
<clipPath id="ccr"><rect x="868.2" y="1793.5" width="444.8" height="160"/></clipPath>
</defs>
<g clip-path="url(#c67)">
<rect x="195" y="1670" width="480" height="120" fill="#f3f3f3"/>
<g filter="url(#f5)" fill="#e2e2e2">
<rect x="224" y="1655" width="95.5" height="150"/>
<rect x="340" y="1655" width="83.5" height="150"/>
<rect x="446" y="1655" width="99" height="150"/>
<rect x="562.5" y="1655" width="85.5" height="150"/>
</g>
<rect x="195" y="1765" width="480" height="30" fill="#dcdcdc" opacity="0.6" filter="url(#f8)"/>
<g filter="url(#f3)" fill="none" stroke-linecap="round">
<path d="M232 1685.5H316" stroke="#cfcfcf" stroke-width="5"/>
<path d="M346 1689H418" stroke="#cfcfcf" stroke-width="5"/>
<path d="M452 1683H540" stroke="#dadada" stroke-width="4"/>
<path d="M570 1677H610" stroke="#d2d2d2" stroke-width="4"/>
</g>
<g filter="url(#f8)" fill="none" stroke-linecap="butt" stroke="#bdbdbd" stroke-width="20">
<path d="M232 1738H314"/><path d="M348 1742H417"/><path d="M454 1738H540"/><path d="M571 1729L640 1718"/>
</g>
<g filter="url(#f36)" fill="none" stroke-linecap="round">
<path d="M230 1738.5C250 1733.5 290 1733.5 316 1739" stroke="#7a7a7a" stroke-width="9"/>
<path d="M232 1738.5C240 1736.5 250 1736 266 1735.5" stroke="#666" stroke-width="6"/>
<path d="M346 1742.5H419" stroke="#868686" stroke-width="8"/>
<path d="M450 1741.5C460 1729 482 1730 500 1735.5S530 1741.5 543 1736.5" stroke="#4f4f4f" stroke-width="8.5"/>
<path d="M568 1731.5L642 1716" stroke="#7c7c7c" stroke-width="9"/>
<ellipse cx="632" cy="1716.5" rx="12" ry="6" fill="#777" stroke="none"/>
</g>
<path d="M642 1784.3H664" stroke="#b0b0b0" stroke-width="1.6" filter="url(#f2)"/>
</g>
<g clip-path="url(#c65)">
<rect x="195" y="1796" width="465" height="125" fill="#c6c6c6"/>
<g filter="url(#f5)" fill="#a7a7a7">
<rect x="223" y="1780" width="90.5" height="160"/>
<rect x="336" y="1780" width="80" height="160"/>
<rect x="441" y="1780" width="98.5" height="160"/>
<rect x="564" y="1780" width="106" height="160"/>
</g>
<rect x="636" y="1790" width="40" height="140" fill="#6e6e6e" opacity="0.45" filter="url(#f8)"/>
<rect x="190" y="1790" width="22" height="140" fill="#e0e0e0" opacity="0.7" filter="url(#f5)"/>
<g filter="url(#f35)" fill="#6c6c6c">
<rect x="227" y="1848" width="84" height="22"/>
<rect x="340" y="1848" width="74" height="22"/>
<rect x="445" y="1848" width="92" height="22"/>
<rect x="568" y="1848" width="84" height="22"/>
</g>
<g filter="url(#f24)" fill="none" stroke-linecap="round">
<path d="M230 1867.5H309" stroke="#474747" stroke-width="8"/>
<path d="M343 1870H412" stroke="#333" stroke-width="9"/>
<path d="M448 1869.5H535" stroke="#444" stroke-width="8"/>
<path d="M571 1870.5H650" stroke="#363636" stroke-width="9"/>
</g>
<rect x="199.7" y="1801" width="455" height="115" filter="url(#grain)" opacity="0.16"/>
<rect x="199.7" y="1801" width="455" height="115" filter="url(#grainw)" opacity="0.15"/>
<path d="M654 1801V1916" stroke="#444" stroke-width="1.4"/>
<path d="M199.7 1915.7H654.7" stroke="#777" stroke-width="0.9"/>
</g>
<g clip-path="url(#ccb)">
<rect x="855" y="1655" width="465" height="150" fill="#e7e7e7"/>
<g filter="url(#f12)" fill="#dadada"><rect x="880" y="1754" width="85" height="28"/><rect x="1218" y="1748" width="85" height="50"/><rect x="990" y="1748" width="70" height="36"/></g>
<g filter="url(#f5)" fill="none" stroke-linecap="round">
<path d="M886 1732H925" stroke="#bcbcbc" stroke-width="7"/>
<path d="M935 1732.5H962" stroke="#adadad" stroke-width="7"/>
<path d="M1082 1729H1105" stroke="#cfcfcf" stroke-width="8"/>
<path d="M1120 1730H1196" stroke="#d8d8d8" stroke-width="8"/>
</g>
<g filter="url(#f5)" fill="none" stroke-linecap="round">
<path d="M994 1733H1052" stroke="#5e5e5e" stroke-width="17"/>
</g>
<g filter="url(#f4)" fill="none" stroke-linecap="round">
<path d="M1000 1733.5H1022" stroke="#000" stroke-width="9"/>
</g>
<g filter="url(#f5)" fill="#000">
<ellipse cx="1240" cy="1728" rx="24" ry="9"/><ellipse cx="1281" cy="1726.8" rx="23" ry="8"/><rect x="1240" y="1721" width="40" height="12"/>
</g>
<g filter="url(#f3)" fill="#000">
<ellipse cx="1240" cy="1728" rx="20" ry="7.5"/><ellipse cx="1281" cy="1726.8" rx="19" ry="6.3"/><rect x="1240" y="1723" width="40" height="8.5"/>
</g>
</g>
<g clip-path="url(#ccr)">
<rect x="865" y="1790" width="452" height="168" fill="#fafafa"/>
<g filter="url(#f12)" fill="#eeeeee"><rect x="885" y="1915" width="90" height="35"/><rect x="1135" y="1905" width="60" height="25"/></g>
<g filter="url(#f3)" stroke="#eee" stroke-width="3" fill="none"><path d="M1104 1796V1855"/><path d="M1180 1796V1850"/></g>
<g filter="url(#f5)" fill="none" stroke-linecap="round">
<path d="M1100 1880C1130 1882 1160 1880 1185 1874" stroke="#b4b4b4" stroke-width="10"/>
</g>
<g filter="url(#f4)" fill="none" stroke-linecap="round">
<path d="M887 1888.5C900 1880 930 1881 967 1880.5" stroke="#000" stroke-width="11"/>
<path d="M950 1880.5H967" stroke="#000" stroke-width="14"/>
<path d="M1092 1874C1120 1871 1160 1868 1190 1866.5" stroke="#000" stroke-width="9"/>
<path d="M1093 1875C1105 1873 1120 1872 1138 1871" stroke="#000" stroke-width="11"/>
<path d="M1222 1871C1240 1868.5 1270 1868.5 1294 1871" stroke="#8c8c8c" stroke-width="8"/>
</g>
<g filter="url(#f3)" fill="none" stroke-linecap="round">
<path d="M897 1884.5C907 1880.5 930 1881 966 1880.5" stroke="#000" stroke-width="7.5"/>
<path d="M998 1883L1060 1878" stroke="#dedede" stroke-width="6"/>
<path d="M1094 1873.5C1120 1870.5 1160 1868 1188 1866.5" stroke="#000" stroke-width="5.5"/>
<path d="M968 1910L974 1916" stroke="#d8d8d8" stroke-width="5"/>
</g>
</g>
<circle cx="1317.5" cy="1730.3" r="0.9" fill="#444"/>
<path d="M1318.8 1869.6L1316.3 1871.7L1318.8 1873.8" fill="none" stroke="#333" stroke-width="1"/>
</svg>
</body></html>
